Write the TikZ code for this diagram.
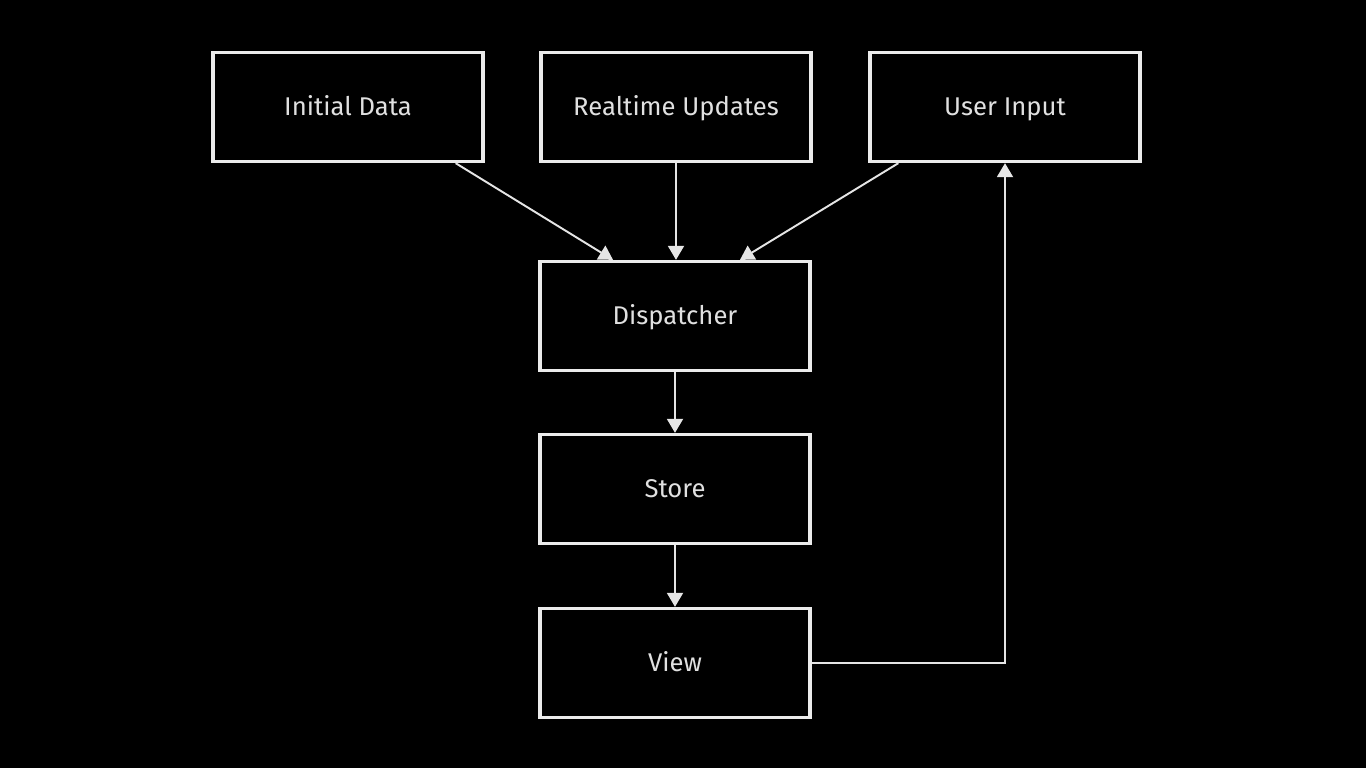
\documentclass[tikz,border=0pt]{standalone}
\usepackage{fontspec}
\setmainfont{Fira Sans}
\usetikzlibrary{arrows.meta}

\begin{document}
\begin{tikzpicture}[x=0.02cm, y=-0.02cm, font=\fontsize{14.6}{17}\selectfont,
		box/.style={draw=white!92!black, line width=1.9pt, fill=black, text=white!88!black,
			minimum width=5.4cm, minimum height=2.18cm, inner sep=0pt,
			text height=2.05ex, text depth=0.3ex},
		arr/.style={draw=white!90!black, line width=1.1pt, -{Triangle[width=0.32cm, length=0.28cm]}}]
	% background
	\fill[black] (0,0) rectangle (1366,768);
	
	\node[box] (init) at (348,107) {Initial Data};
	\node[box] (real) at (676,107) {Realtime Updates};
	\node[box] (user) at (1005,107) {User Input};
	\node[box] (disp) at (675,316) {Dispatcher};
	\node[box] (store) at (675,489) {Store};
	\node[box] (view) at (675,663) {View};
	
	\draw[arr] ([xshift=-0.58cm]init.south east) -- ([xshift=-1.24cm]disp.north);
	\draw[arr] (real.south) -- ([xshift=0.02cm]disp.north);
	\draw[arr] ([xshift=0.6cm]user.south west) -- ([xshift=1.3cm]disp.north);
	
	\draw[arr] (disp) -- (store);
	\draw[arr] (store) -- (view);
	\draw[arr] (view.east) -| (user.south);
\end{tikzpicture}
\end{document}
